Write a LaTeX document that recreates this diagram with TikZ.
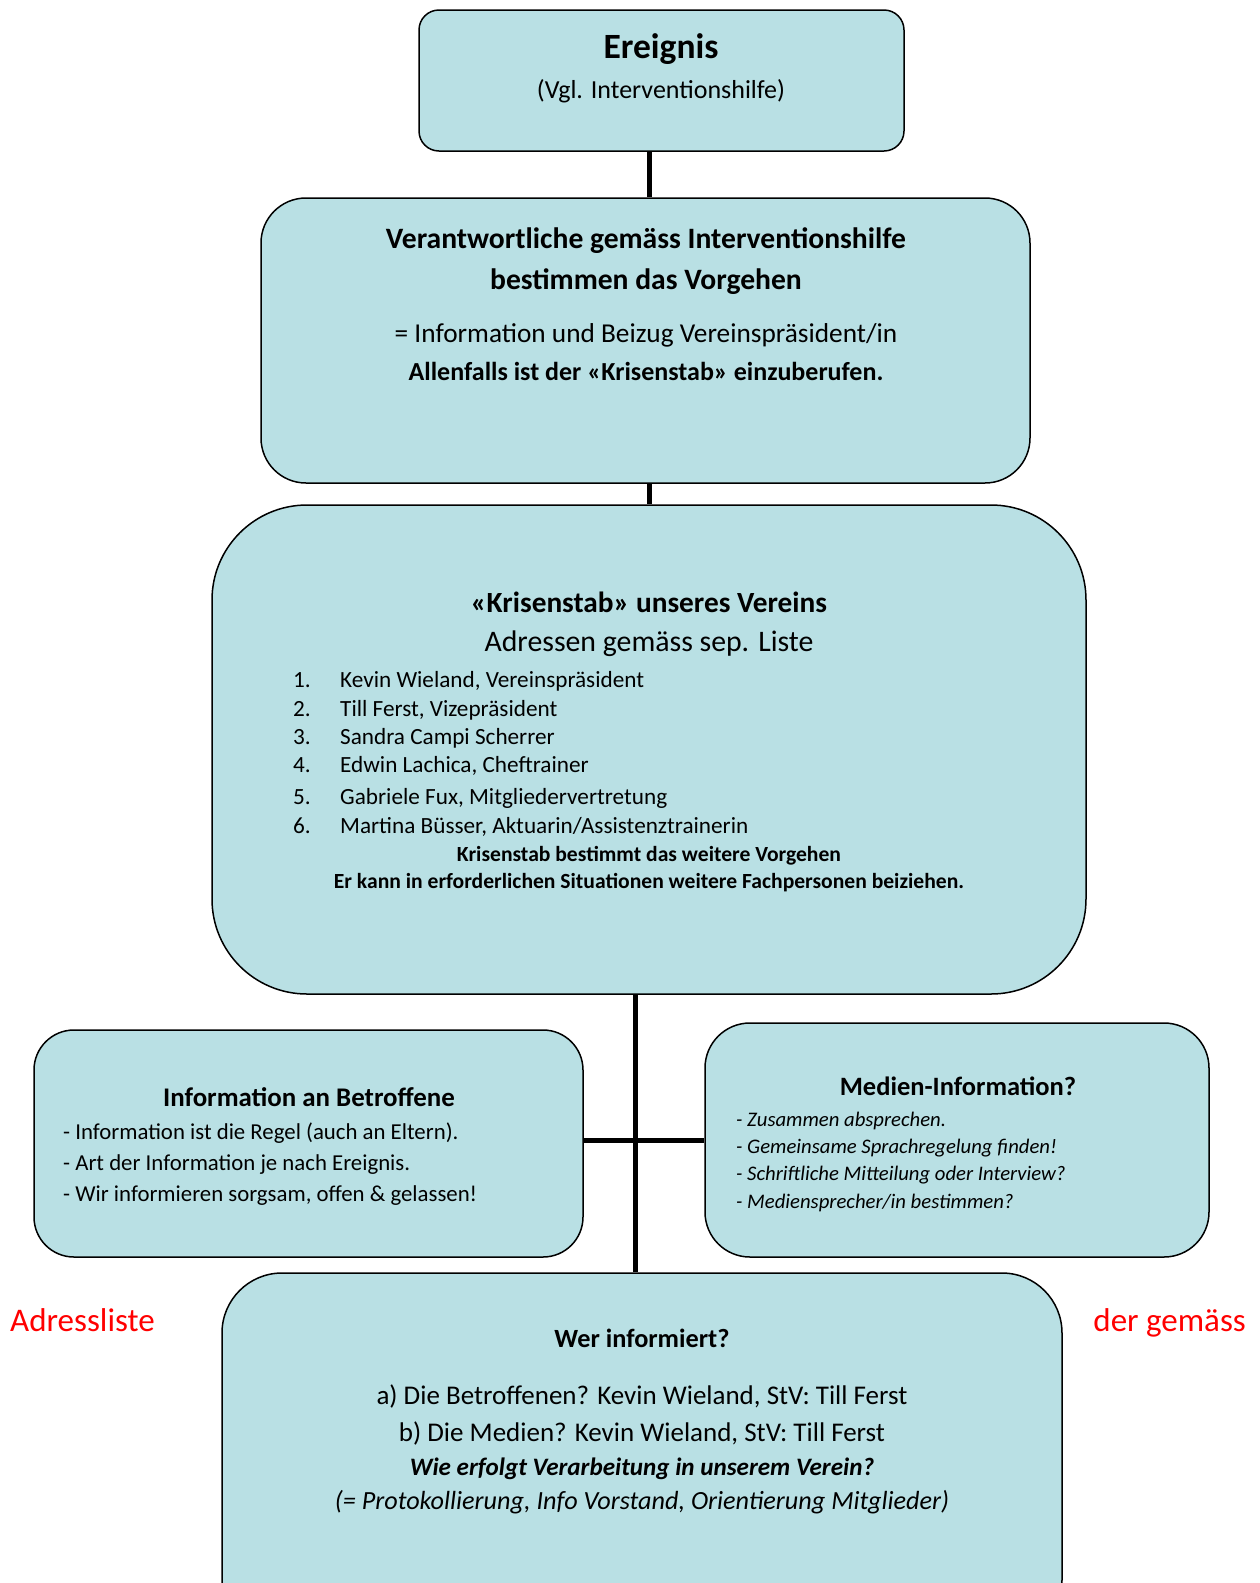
\documentclass[tikz,border=0pt]{standalone}
\usepackage{fontspec}
\setmainfont{Carlito}
\usetikzlibrary{positioning}
\definecolor{boxfill}{RGB}{185,224,228}
\newcommand{\fs}[1]{\fontsize{#1}{#1}\selectfont}
\tikzset{
  box/.style={draw=black, line width=1.5pt, fill=boxfill, inner sep=0pt},
  conn/.style={draw=black, line width=5pt},
  txt/.style={inner sep=0pt, text height=0.7em, text depth=0.2em, yshift=-7pt},
  note/.style={txt, text=red, font=\fs{33}}
}

\begin{document}
\begin{tikzpicture}[x=1pt,y=-1pt]
\useasboundingbox (0,0) rectangle (1259,1583);
\fill[white] (0,0) rectangle (1259,1583);
\coordinate (trunkA) at (649,0);
\coordinate (trunkB) at (635,0);
\coordinate (hub) at (635,1140);

% boxes
\node[box, rounded corners=20pt, minimum width=485pt, minimum height=141pt] (ereignis) at (661.5,80.5) {};
\node[box, rounded corners=45pt, minimum width=769pt, minimum height=285pt] (vorgehen) at (645.5,340.5) {};
\node[box, rounded corners=95pt, minimum width=874pt, minimum height=489pt] (krisenstab) at (649,749.5) {};
\node[box, rounded corners=40pt, minimum width=549pt, minimum height=227pt] (betroffene) at (308.5,1143.5) {};
\node[box, rounded corners=45pt, minimum width=504pt, minimum height=234pt] (medien) at (957,1140) {};
\node[box, rounded corners=60pt, minimum width=840pt, minimum height=367pt] (wer) at (642,1456.5) {};

% connectors
\draw[conn] (ereignis.south -| trunkA) -- (vorgehen.north -| trunkA);
\draw[conn] (vorgehen.south -| trunkA) -- (krisenstab.north -| trunkA);
\draw[conn] (krisenstab.south -| trunkB) -- (wer.north -| trunkB);
\draw[conn] (betroffene.east |- hub) -- (medien.west |- hub);

% Ereignis
\node[txt, font=\fs{35.5}\bfseries] (ereignisT) at (661,49) {Ereignis};
\node[txt, font=\fs{26}] (ereignisS) at (661,89) {(Vgl. Interventionshilfe)};

% Vorgehen
\node[txt, font=\fs{29.6}\bfseries] (vorgehenT1) at (646,239) {Verantwortliche gemäss Interventionshilfe};
\node[txt, font=\fs{29.6}\bfseries] (vorgehenT2) at (646,280) {bestimmen das Vorgehen};
\node[txt, font=\fs{27.3}] (vorgehenB1) at (646,333) {= Information und Beizug Vereinspräsident/in};
\node[txt, font=\fs{26}\bfseries] (vorgehenB2) at (646,371) {Allenfalls ist der «Krisenstab» einzuberufen.};

% Krisenstab
\node[txt, font=\fs{29.3}\bfseries] (krisenT) at (649,603) {«Krisenstab» unseres Vereins};
\node[txt, font=\fs{29.8}] (krisenS) at (649,642) {Adressen gemäss sep. Liste};
\foreach \n/\y/\who in {1/678/{Kevin Wieland, Vereinspräsident},
                        2/707/{Till Ferst, Vizepräsident},
                        3/735/{Sandra Campi Scherrer},
                        4/763/{Edwin Lachica, Cheftrainer},
                        5/795/{Gabriele Fux, Mitgliedervertretung},
                        6/824/{Martina Büsser, Aktuarin/Assistenztrainerin}}{
  \node[txt, font=\fs{23.2}, anchor=west] (num\n) at (293,\y) {\n.};
  \node[txt, font=\fs{23.2}, anchor=west] (name\n) at (340,\y) {\who};
}
\node[txt, font=\fs{21.6}\bfseries] (krisenB1) at (649,852) {Krisenstab bestimmt das weitere Vorgehen};
\node[txt, font=\fs{21.6}\bfseries] (krisenB2) at (649,879) {Er kann in erforderlichen Situationen weitere Fachpersonen beiziehen.};

% Betroffene
\node[txt, font=\fs{26.9}\bfseries] (betroffeneT) at (309,1097) {Information an Betroffene};
\node[txt, font=\fs{22.8}, anchor=west] (betroffene1) at (63,1130) {- Information ist die Regel (auch an Eltern).};
\node[txt, font=\fs{22.8}, anchor=west] (betroffene2) at (63,1161) {- Art der Information je nach Ereignis.};
\node[txt, font=\fs{22.8}, anchor=west] (betroffene3) at (63,1192) {- Wir informieren sorgsam, offen \& gelassen!};

% Medien
\node[txt, font=\fs{26.5}\bfseries] (medienT) at (958,1086) {Medien-Information?};
\node[txt, font=\fs{20.7}\itshape, anchor=west] (medien1) at (736,1117) {- Zusammen absprechen.};
\node[txt, font=\fs{20.7}\itshape, anchor=west] (medien2) at (736,1144) {- Gemeinsame Sprachregelung finden!};
\node[txt, font=\fs{20.7}\itshape, anchor=west] (medien3) at (736,1171) {- Schriftliche Mitteilung oder Interview?};
\node[txt, font=\fs{20.7}\itshape, anchor=west] (medien4) at (736,1199) {- Mediensprecher/in bestimmen?};

% Wer informiert
\node[txt, font=\fs{26.3}\bfseries] (werT) at (642,1338) {Wer informiert?};
\node[txt, font=\fs{27}] (wer1) at (642,1395) {a) Die Betroffenen? Kevin Wieland, StV: Till Ferst};
\node[txt, font=\fs{27}] (wer2) at (642,1432) {b) Die Medien? Kevin Wieland, StV: Till Ferst};
\node[txt, font=\fs{25.1}\bfseries\itshape] (wer3) at (642,1466) {Wie erfolgt Verarbeitung in unserem Verein?};
\node[txt, font=\fs{26.2}\itshape] (wer4) at (642,1500) {(= Protokollierung, Info Vorstand, Orientierung Mitglieder)};

% side notes
\node[note, anchor=west] (noteL) at (10,1322) {Adressliste};
\node[note, anchor=east] (noteR) at (1246,1322) {der gemäss};
\end{tikzpicture}
\end{document}
